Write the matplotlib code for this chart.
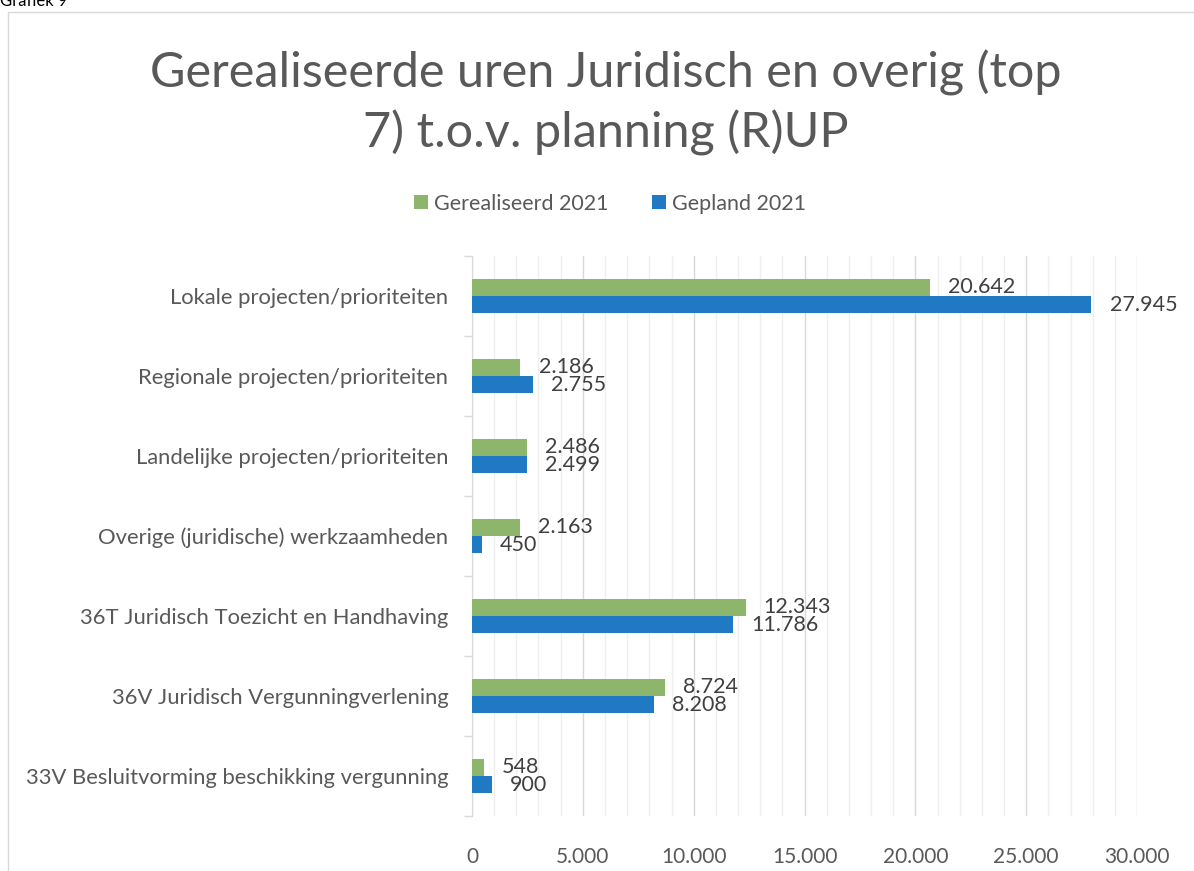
import numpy as np
import matplotlib.pyplot as plt
from matplotlib.ticker import MultipleLocator, FuncFormatter
from matplotlib.patches import Rectangle

plt.rcParams['font.family'] = ['Lato', 'DejaVu Sans']

# data, top to bottom as in the chart
categories = ['Lokale projecten/prioriteiten',
              'Regionale projecten/prioriteiten',
              'Landelijke projecten/prioriteiten',
              'Overige (juridische) werkzaamheden',
              '36T Juridisch Toezicht en Handhaving',
              '36V Juridisch Vergunningverlening',
              '33V Besluitvorming beschikking vergunning']
gerealiseerd = [20642, 2186, 2486, 2163, 12343, 8724, 548]
gepland = [27945, 2755, 2499, 450, 11786, 8208, 900]
series_names = ['Gerealiseerd 2021', 'Gepland 2021']
x_ticks = [0, 5000, 10000, 15000, 20000, 25000, 30000]

green = '#8db56b'
blue = '#2079c3'
txt = '#595959'

def nl(v):
    return f'{v:,.0f}'.replace(',', '.')

fig = plt.figure(figsize=(11.94, 8.71), dpi=100)
ax = fig.add_axes([0.3953, 0.0631, 0.557, 0.643])

n = len(categories)
y = np.arange(n)[::-1]
h = 0.215
b1 = ax.barh(y + h / 2, gerealiseerd, height=h, color=green, label=series_names[0], zorder=3)
b2 = ax.barh(y - h / 2, gepland, height=h, color=blue, label=series_names[1], zorder=3)

# value labels right of each bar (Dutch thousands separator)
for bars, vals in ((b1, gerealiseerd), (b2, gepland)):
    for bar, v in zip(bars, vals):
        ax.annotate(nl(v), (bar.get_width(), bar.get_y() + bar.get_height() / 2),
                    xytext=(13, 0), textcoords='offset points', va='center', ha='left',
                    fontsize=15.5, color='#404040', zorder=4)

ax.set_xlim(0, 30000)
ax.set_ylim(-0.5, n - 0.5)
ax.xaxis.set_minor_locator(MultipleLocator(1000))
ax.set_xticks(x_ticks)
ax.xaxis.set_major_formatter(FuncFormatter(lambda v, p: nl(v)))
ax.grid(axis='x', which='minor', color='#efefef', linewidth=1, zorder=0)
ax.grid(axis='x', which='major', color='#d9d9d9', linewidth=1, zorder=0)
ax.tick_params(axis='x', which='both', length=0, labelsize=15, labelcolor=txt, pad=22)

ax.set_yticks(y)
ax.set_yticklabels(categories)
ax.tick_params(axis='y', which='major', length=0, labelsize=15.8, labelcolor=txt, pad=17)
ax.set_yticks(np.arange(n + 1) - 0.5, minor=True)
ax.tick_params(axis='y', which='minor', length=6, color='#d9d9d9', width=1)

for s in ('top', 'right', 'bottom'):
    ax.spines[s].set_visible(False)
ax.spines['left'].set_color('#d9d9d9')

fig.text(0.507, 0.882, 'Gerealiseerde uren Juridisch en overig (top\n7) t.o.v. planning (R)UP',
         ha='center', va='center', fontsize=35, color=txt, fontweight='normal',
         linespacing=1.38)

fig.legend(handles=[b1, b2], labels=series_names, loc='center', bbox_to_anchor=(0.511, 0.766),
           ncol=2, frameon=False, fontsize=15.5, labelcolor=txt, handlelength=0.65,
           handleheight=0.65, handletextpad=0.3, columnspacing=2.0)

# chart frame and caption cut at the top
fig.patches.append(Rectangle((8 / 1194, -0.1), 1.2, 1 - 12 / 871 + 0.1,
                             transform=fig.transFigure, fill=False,
                             edgecolor='#d9d9d9', linewidth=1))
fig.text(0.0, 1 - 6 / 871, 'Grafiek 9', ha='left', va='baseline', fontsize=12, color='black')

fig.savefig('out.png', dpi=100)
